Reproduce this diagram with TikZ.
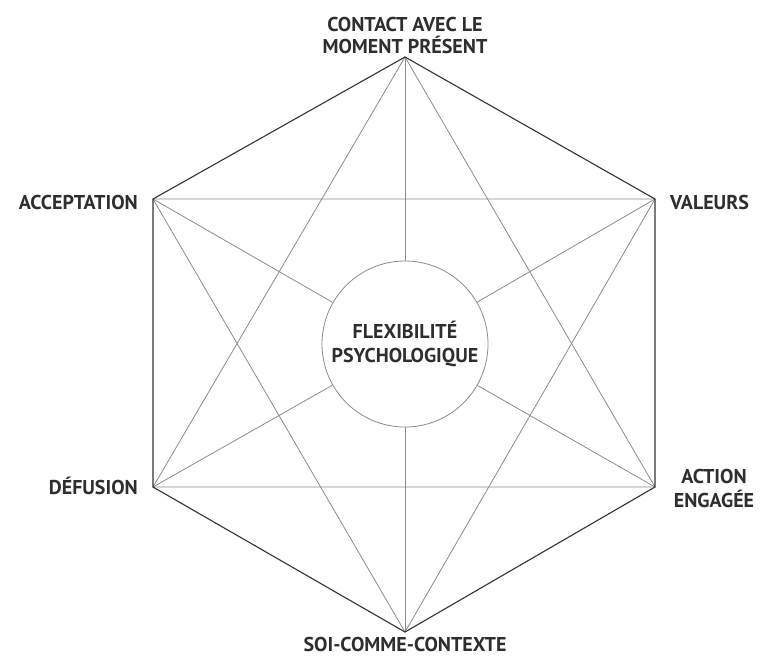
\documentclass[tikz,border=0pt]{standalone}
\usepackage{fontspec}
\setmainfont{PT Sans}
\begin{document}
\begin{tikzpicture}[x=1pt,y=-1pt,
  lbl/.style={font=\bfseries\fontsize{20}{23}\selectfont, text=black!82, inner sep=0pt, anchor=base},
  hexedge/.style={draw=black!80, line width=1.1pt, line join=miter},
  innerline/.style={draw=black!45, line width=0.8pt}]
\useasboundingbox[fill=white] (0,0) rectangle (762,657);
\coordinate (T) at (405,57);
\coordinate (UR) at (655,199);
\coordinate (LR) at (655,487);
\coordinate (B) at (405,632);
\coordinate (LL) at (153,487);
\coordinate (UL) at (153,199);
\node[circle, draw=black!45, line width=0.8pt, minimum size=166pt, inner sep=0pt] (c) at (405,344) {};
% star
\draw[innerline] (T) -- (LL) -- (LR) -- cycle;
\draw[innerline] (B) -- (UL) -- (UR) -- cycle;
% spokes
\foreach \v in {T,UR,LR,B,LL,UL} \draw[innerline] (c) -- (\v);
% hexagon
\draw[hexedge] (T) -- (UR) -- (LR) -- (B) -- (LL) -- (UL) -- cycle;
% labels
\node[lbl] (t1) at (405,31) {CONTACT AVEC LE};
\node[lbl] (t2) at (405,53) {MOMENT PRÉSENT};
\node[lbl, anchor=base east] (acc) at (138,209) {ACCEPTATION};
\node[lbl, anchor=base west] (val) at (670,209) {VALEURS};
\node[lbl, anchor=base east] (def) at (138,494) {DÉFUSION};
\node[lbl] (act1) at (714,483) {ACTION};
\node[lbl] (act2) at (714,507) {ENGAGÉE};
\node[lbl] (soi) at (405,651) {SOI-COMME-CONTEXTE};
\node[lbl] (f1) at (405,338) {FLEXIBILITÉ};
\node[lbl] (f2) at (405,362) {PSYCHOLOGIQUE};
\end{tikzpicture}
\end{document}
